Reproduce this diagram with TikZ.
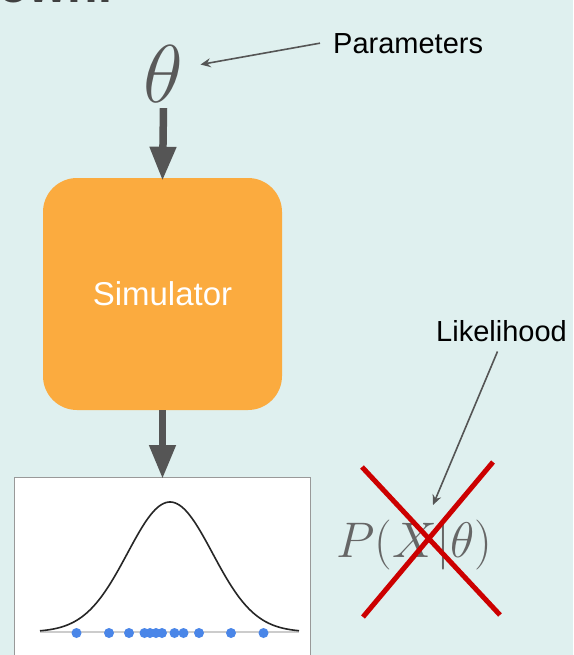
\RequirePackage{fix-cm}
\documentclass[tikz,border=0pt]{standalone}
\usepackage{fontspec}
\setmainfont{Liberation Sans}
\usetikzlibrary{arrows.meta}
\definecolor{bgc}{HTML}{DFF0EF}
\definecolor{simorange}{HTML}{FBAB3F}
\definecolor{arrowgrey}{HTML}{555555}
\definecolor{dotblue}{HTML}{4A86E8}
\definecolor{crossred}{HTML}{CC0000}
\tikzset{
  bigarrow/.style={draw=arrowgrey, line width=7.5pt, -{Triangle[width=25pt,length=34pt]}},
  thinarrow/.style={draw=arrowgrey, line width=1.6pt, -{Stealth[width=9pt,length=10pt]}},
  label text/.style={font=\fontsize{29}{31}\selectfont, text=black, inner sep=0pt},
  simbox/.style={fill=simorange, rounded corners=34pt, minimum width=239pt, minimum height=232pt, text=white, font=\fontsize{33}{35}\selectfont, inner sep=0pt},
  plotbox/.style={fill=white, draw=black!40, line width=1pt, minimum width=296pt, minimum height=190pt, inner sep=0pt},
  dot/.style={circle, fill=dotblue, minimum size=10pt, inner sep=0pt},
  crossline/.style={draw=crossred, line width=5pt},
}
\begin{document}
\begin{tikzpicture}[x=1pt,y=1pt]
\useasboundingbox (0,0) rectangle (573,-655);
\fill[bgc] (0,0) rectangle (573,-655);
% cut-off title fragment
\node[anchor=base west, inner sep=0pt, text=black!75, font=\bfseries\fontsize{50}{50}\selectfont] (title) at (-2,-3) {own.};
% theta
\node[anchor=base, inner sep=0pt, text=black!65, font=\fontsize{82}{82}\selectfont] (theta) at (163.5,-103) {$\theta$};
% parameters
\node[label text, anchor=base west] (params) at (333,-54) {Parameters};
\draw[thinarrow] ([xshift=-13pt,yshift=1pt]params.west) -- ([xshift=17pt,yshift=10pt]theta.east);
% simulator
\node[simbox] (sim) at (162.5,-294) {Simulator};
\draw[bigarrow] ([yshift=-5pt]theta.south) -- ([yshift=-3pt]sim.north);
% plot
\node[plotbox, anchor=north west] (plot) at (14,-477) {};
\draw[bigarrow] (sim.south) -- ([yshift=-2pt]plot.north -| sim.south);
\draw[black!20, line width=2pt] (40,-632) -- (299,-632);
\draw[black!85, line width=1.6pt] plot[domain=40:299, samples=120] (\x, {-632 + 130*exp(-0.5*((\x-170)/42.5)^2)});
\foreach \i/\xx in {1/76.5,2/109,3/129,4/144.5,5/150,6/156,7/162,8/174.5,9/183.5,10/199,11/231,12/263.5}
  \node[dot] (d\i) at (\xx,-633) {};
% likelihood
\node[label text, anchor=base west] (lik) at (436,-341) {Likelihood};
\node[anchor=base west, inner sep=0pt, text=black!60, font=\fontsize{50}{50}\selectfont] (pxt) at (336,-557) {$P(X|\theta)$};
\draw[thinarrow] ([xshift=-4pt,yshift=-10pt]lik.south) -- ([shift={(97pt,52pt)}]pxt.base west);
% red cross
\draw[crossline] (362,-467) -- (500,-615);
\draw[crossline] (493,-462) -- (363,-617);
\end{tikzpicture}
\end{document}
